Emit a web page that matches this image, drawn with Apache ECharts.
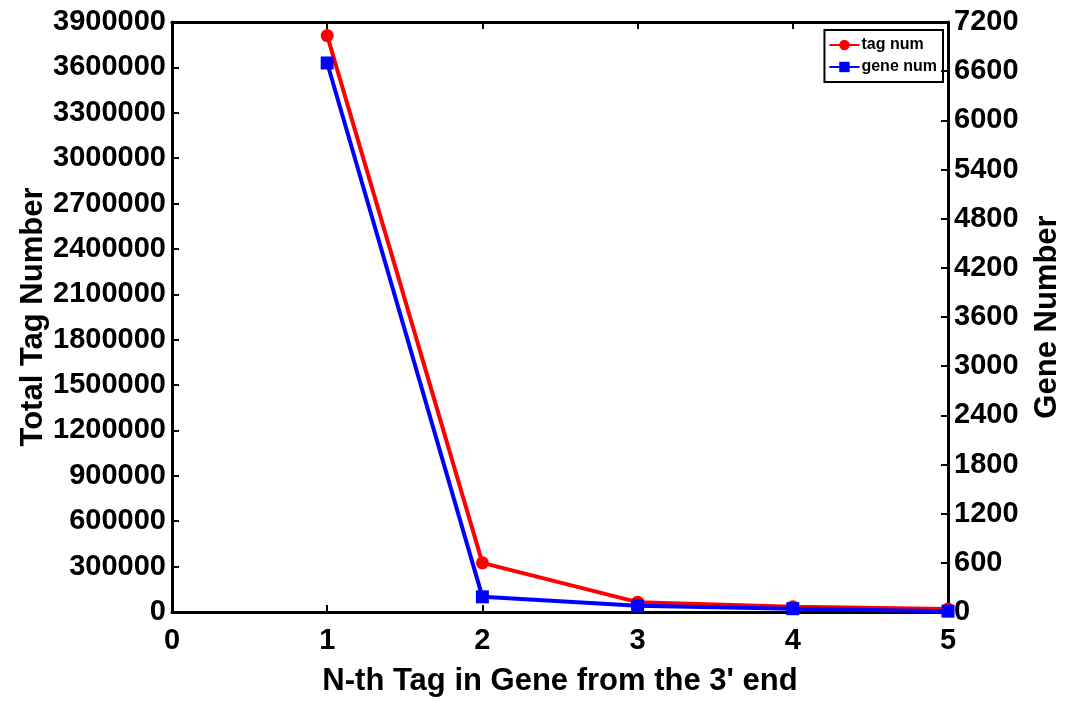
<!DOCTYPE html>
<html lang="en">
<head>
    <meta charset="UTF-8">
    <title>tag gene</title>
    <script src="https://cdn.jsdelivr.net/npm/echarts@6/dist/echarts.min.js"></script>
    <style>
        html, body { margin: 0; padding: 0; background: #fff; }
    </style>
</head>
<body>
<div id="main" style="width: 1065px;height:702px;"></div>

<script>
    // data
    const nthTag = [1, 2, 3, 4, 5];
    const tagNum = [3810000, 325000, 65000, 35000, 20000];
    const geneNum = [6700, 185, 75, 40, 10];

    const pairs = function (xs, ys) {
        return xs.map(function (x, i) { return [x, ys[i]]; });
    };
    const plain = function (v) { return String(v); };

    const tickFont = { color: '#000', fontFamily: 'Liberation Sans', fontWeight: 'bold', fontSize: 29 };
    const nameFont = { color: '#000', fontFamily: 'Liberation Sans', fontWeight: 'bold', fontSize: 31 };

    const myChart = echarts.init(document.getElementById('main'));
    myChart.setOption({
        animation: false,
        grid: { left: 172, right: 117, top: 22, bottom: 90, outerBoundsMode: 'none', containLabel: false },
        legend: {
            right: 122, top: 30,
            orient: 'vertical',
            itemWidth: 30, itemHeight: 13, itemGap: 6,
            padding: [7, 6, 7, 4],
            borderColor: '#000', borderWidth: 2,
            textStyle: { color: '#000', fontFamily: 'Liberation Sans', fontWeight: 'bold', fontSize: 16, padding: [0, 0, 0, -3] },
            data: ['tag num', 'gene num']
        },
        xAxis: [{
            type: 'value', min: 0, max: 5, interval: 1,
            name: "N-th Tag in Gene from the 3' end",
            nameLocation: 'middle', nameGap: 54, nameMoveOverlap: false, nameTextStyle: nameFont,
            axisLine: { onZero: false, lineStyle: { color: '#000', width: 3 } },
            axisTick: { inside: true, length: 7, lineStyle: { color: '#000', width: 2 } },
            axisLabel: Object.assign({ margin: 14, formatter: plain }, tickFont),
            splitLine: { show: false }
        }, {
            type: 'value', min: 0, max: 5, interval: 1, position: 'top',
            axisLine: { onZero: false, lineStyle: { color: '#000', width: 3 } },
            axisTick: { inside: true, length: 7, lineStyle: { color: '#000', width: 2 } },
            axisLabel: { show: false },
            splitLine: { show: false }
        }],
        yAxis: [{
            type: 'value', min: 0, max: 3900000, interval: 300000,
            name: 'Total Tag Number',
            nameLocation: 'middle', nameGap: 123, nameMoveOverlap: false, nameTextStyle: nameFont,
            axisLine: { show: true, onZero: false, lineStyle: { color: '#000', width: 3 } },
            axisTick: { show: true, inside: true, length: 7, lineStyle: { color: '#000', width: 2 } },
            axisLabel: Object.assign({ margin: 6, formatter: plain }, tickFont),
            splitLine: { show: false }
        }, {
            type: 'value', min: 0, max: 7200, interval: 600, position: 'right',
            name: 'Gene Number',
            nameLocation: 'middle', nameGap: 84, nameMoveOverlap: false, nameTextStyle: nameFont,
            axisLine: { show: true, onZero: false, lineStyle: { color: '#000', width: 3 } },
            axisTick: { show: true, inside: true, length: 7, lineStyle: { color: '#000', width: 2 } },
            axisLabel: Object.assign({ margin: 6, formatter: plain }, tickFont),
            splitLine: { show: false }
        }],
        series: [{
            name: 'tag num', type: 'line', yAxisIndex: 0,
            data: pairs(nthTag, tagNum),
            color: '#ff0000',
            lineStyle: { width: 4 },
            symbol: 'circle', symbolSize: 13,
            z: 3
        }, {
            name: 'gene num', type: 'line', yAxisIndex: 1,
            data: pairs(nthTag, geneNum),
            color: '#0000ff',
            lineStyle: { width: 4 },
            symbol: 'rect', symbolSize: 13,
            z: 4
        }]
    });
</script>
</body>
</html>
